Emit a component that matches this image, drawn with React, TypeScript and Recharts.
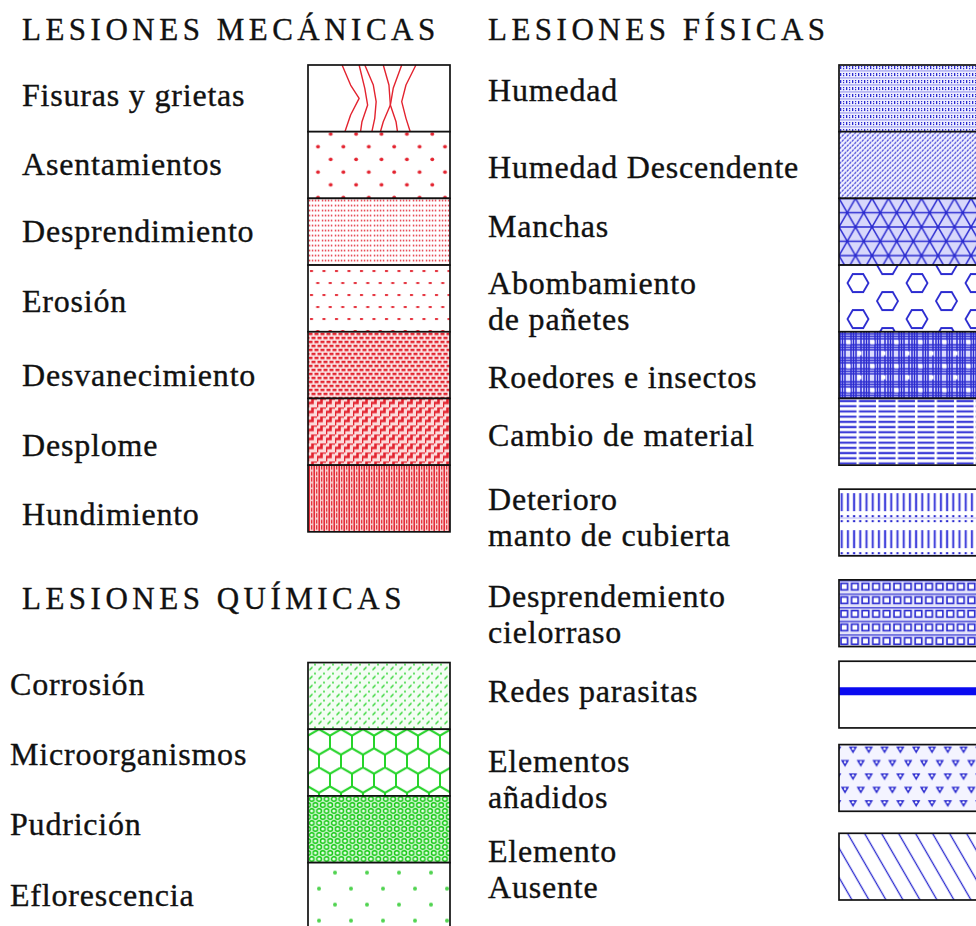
import React from 'react';
import { BarChart, Bar, XAxis, YAxis } from 'recharts';

// ---- legend content ----
const groupTitles = ['LESIONES MECÁNICAS', 'LESIONES QUÍMICAS', 'LESIONES FÍSICAS'];

const mechanicalLabels = [
  'Fisuras y grietas', 'Asentamientos', 'Desprendimiento', 'Erosión',
  'Desvanecimiento', 'Desplome', 'Hundimiento',
];
const mechanicalValues = [1, 1, 1, 1, 1, 1, 1];

const chemicalLabels = ['Corrosión', 'Microorganismos', 'Pudrición', 'Eflorescencia'];
const chemicalValues = [1, 1, 1, 1];

const physicalLabels = [
  'Humedad', 'Humedad Descendente', 'Manchas', 'Abombamiento\nde pañetes',
  'Roedores e insectos', 'Cambio de material', 'Deterioro\nmanto de cubierta',
  'Desprendemiento\ncielorraso', 'Redes parasitas', 'Elementos\nañadidos', 'Elemento\nAusente',
];
const physicalValues = [1, 1, 1, 1, 1, 1, 1, 1, 1, 1, 1];

// ---- layout & style ----
const RED = '#e3232f';
const GREEN = '#26d42a';
const BLUE = '#2b2bd0';
const INK = '#111';
const FONT = "'Liberation Serif', 'Times New Roman', serif";

const TOP = 65;
const PLOT_H = 867;
const CHART_H = 940;
const BAR_W = 142;
const DOMAIN_MAX = 13;
const LEFT_BAR_X = 308;
const RIGHT_BAR_X = 839;
const MECH_LABEL_X = 22;
const CHEM_LABEL_X = 10;
const PHYS_LABEL_X = 488;
const LINE_GAP = 36;

const LEFT_SPACER = 1.96; // gap between mechanical and chemical swatches
const PHYS_SPACERS = [0, 0, 0, 0, 0, 0, 0.36, 0.36, 0.22, 0.25, 0.33];

const mechPatterns = ['cracks', 'asent', 'despr', 'eros', 'desvan', 'despl', 'hund'];
const chemPatterns = ['corr', 'micro', 'pudr', 'eflor'];
const physPatterns = ['hum', 'humdesc', 'manchas', 'abomb', 'roed', 'cambio', 'deter', 'cielo', 'redes', 'elem', 'ausente'];

// baseline offset of each label from the middle of its swatch
const mechDy = [8, 9.5, 10.5, 14, 21, 24.5, 26];
const chemDy = [-0.5, 2.8, 6, 10.5];
const physDy = [3, 12.5, 5.5, -4, 23, 14.5, -13, -6, 7.5, -5.5, -4.5];

const CRACKS = [
  [[0.24, 0], [0.3, 0.3], [0.36, 0.5], [0.3, 0.75], [0.26, 1]],
  [[0.36, 0], [0.4, 0.35], [0.42, 0.6], [0.38, 0.85], [0.37, 1]],
  [[0.4, 0], [0.46, 0.3], [0.48, 0.55], [0.47, 0.8], [0.45, 1]],
  [[0.53, 0], [0.57, 0.3], [0.58, 0.6], [0.53, 0.85], [0.51, 1]],
  [[0.66, 0], [0.6, 0.35], [0.58, 0.6], [0.62, 0.85], [0.63, 1]],
  [[0.76, 0], [0.69, 0.3], [0.66, 0.55], [0.69, 0.8], [0.72, 1]],
];

type Segment = {
  key: string;
  value: number;
  spacer?: boolean;
  label?: string;
  pattern?: string;
  labelX?: number;
  dy?: number;
};

const tiled = (W: number, H: number, pts: number[][], draw: (x: number, y: number, k: string) => React.ReactNode) =>
  pts.flatMap(([cx, cy], p) =>
    [-1, 0, 1].flatMap(i => [-1, 0, 1].map(j => draw(cx + i * W, cy + j * H, `${p}-${i}-${j}`))),
  );

const flatHex = (cx: number, cy: number, a: number, b: number) =>
  `M${cx - a},${cy} L${cx - a / 2},${cy - b} L${cx + a / 2},${cy - b} L${cx + a},${cy} L${cx + a / 2},${cy + b} L${cx - a / 2},${cy + b} Z`;

const patternDefs = () => (
  <defs>
    {/* mechanical - red */}
    <pattern id="pat-asent" width={25.4} height={25.4} patternUnits="userSpaceOnUse">
      <rect width={25.4} height={25.4} fill="#fff" />
      <circle cx={10} cy={15} r={1.9} fill={RED} />
      <circle cx={22.7} cy={2.3} r={1.9} fill={RED} />
    </pattern>
    <pattern id="pat-despr" width={13} height={5} patternUnits="userSpaceOnUse">
      <rect width={13} height={5} fill="#fff" />
      {[0.8, 3.8, 6.8, 9.8].map(x => <rect key={x} x={x} y={1.5} width={1.5} height={1.5} fill={RED} />)}
    </pattern>
    <pattern id="pat-eros" width={12.5} height={24} patternUnits="userSpaceOnUse">
      <rect width={12.5} height={24} fill="#fff" />
      <rect x={2} y={5} width={3} height={1.9} fill={RED} />
      <rect x={8.25} y={17} width={3} height={1.9} fill={RED} />
    </pattern>
    <pattern id="pat-desvan" width={12} height={8} patternUnits="userSpaceOnUse">
      <rect width={12} height={8} fill="#fbe6e6" />
      <rect x={0.5} y={1} width={4} height={2.4} fill={RED} />
      <rect x={6.5} y={1} width={4} height={2.4} fill={RED} />
      <rect x={3.5} y={5} width={4} height={2.4} fill={RED} />
      <rect x={9.5} y={5} width={4} height={2.4} fill={RED} />
      <rect x={-2.5} y={5} width={4} height={2.4} fill={RED} />
    </pattern>
    <pattern id="pat-despl" width={9} height={9} patternUnits="userSpaceOnUse">
      <rect width={9} height={9} fill="#fcdcdc" />
      <path d="M0 9 V4.5 H4.5 V0 H9" fill="none" stroke={RED} strokeWidth={2.6} />
    </pattern>
    <pattern id="pat-hund" width={5} height={12} patternUnits="userSpaceOnUse">
      <rect width={5} height={12} fill="#f9d4d4" />
      <line x1={1.2} y1={0} x2={1.2} y2={12} stroke={RED} strokeWidth={1.5} />
      <line x1={3.7} y1={0} x2={3.7} y2={4.5} stroke={RED} strokeWidth={1.2} />
      <line x1={3.7} y1={6.5} x2={3.7} y2={10.5} stroke={RED} strokeWidth={1.2} />
    </pattern>

    {/* chemical - green */}
    <pattern id="pat-corr" width={9} height={9} patternUnits="userSpaceOnUse">
      <rect width={9} height={9} fill="#f4fdf4" />
      <line x1={1.5} y1={7.5} x2={4.5} y2={4.5} stroke={GREEN} strokeWidth={1.2} />
      <circle cx={7} cy={2} r={0.9} fill={GREEN} />
    </pattern>
    <pattern id="pat-micro" width={22} height={38.1} patternUnits="userSpaceOnUse">
      <rect width={22} height={38.1} fill="#fff" />
      <path d="M11,0 L22,6.35 L22,19.05 L11,25.4 L0,19.05 L0,6.35 Z M11,25.4 L11,38.1" fill="none" stroke={GREEN} strokeWidth={2} />
    </pattern>
    <pattern id="pat-pudr" width={7.4} height={12} patternUnits="userSpaceOnUse">
      <rect width={7.4} height={12} fill="#c9f5c9" />
      {[[3.7, 3], [0, 9], [7.4, 9]].map(([x, y]) => (
        <circle key={`${x}-${y}`} cx={x} cy={y} r={2.3} fill="#ecffec" stroke="#16c816" strokeWidth={1.4} />
      ))}
    </pattern>
    <pattern id="pat-eflor" width={32} height={32} patternUnits="userSpaceOnUse">
      <rect width={32} height={32} fill="#fff" />
      <circle cx={27} cy={10} r={2} fill="#4fd34f" />
      <circle cx={11} cy={26} r={2} fill="#4fd34f" />
    </pattern>

    {/* physical - blue */}
    <pattern id="pat-hum" width={6} height={7} patternUnits="userSpaceOnUse">
      <rect width={6} height={7} fill="#eeeeff" />
      <rect x={1} y={1} width={1.3} height={3} fill={BLUE} />
      <rect x={4} y={1} width={1.2} height={1.2} fill={BLUE} />
      <rect x={4} y={3} width={1.2} height={1.2} fill={BLUE} />
      <rect x={0} y={5.5} width={6} height={0.9} fill={BLUE} opacity={0.55} />
    </pattern>
    <pattern id="pat-humdesc" width={5} height={5} patternUnits="userSpaceOnUse">
      <rect width={5} height={5} fill="#f0f0ff" />
      <line x1={0.3} y1={2.2} x2={2.2} y2={0.3} stroke={BLUE} strokeWidth={1.1} />
      <line x1={2.8} y1={4.7} x2={4.7} y2={2.8} stroke={BLUE} strokeWidth={1.1} />
    </pattern>
    <pattern id="pat-manchas" width={16.5} height={28.6} patternUnits="userSpaceOnUse">
      <rect width={16.5} height={28.6} fill="#d8d8fb" />
      <path d="M0 0 H16.5 M0 14.3 H16.5 M0 28.6 H16.5 M0 0 L16.5 28.6 M16.5 0 L0 28.6" stroke={BLUE} strokeWidth={1.5} />
    </pattern>
    <pattern id="pat-abomb" width={59} height={36} patternUnits="userSpaceOnUse">
      <rect width={59} height={36} fill="#fff" />
      {tiled(59, 36, [[19, 18], [48.5, 0]], (x, y, k) => (
        <path key={k} d={flatHex(x, y, 10.5, 9)} fill="none" stroke={BLUE} strokeWidth={1.8} />
      ))}
    </pattern>
    <pattern id="pat-roed" width={24} height={24} patternUnits="userSpaceOnUse">
      <rect width={24} height={24} fill="#dcdcff" />
      {[1, 3.5, 6, 12, 14.5, 17, 22].map(x => <line key={`v${x}`} x1={x} y1={0} x2={x} y2={24} stroke={BLUE} strokeWidth={1.5} />)}
      {[2, 4.5, 7, 13, 15.5, 18].map(y => <line key={`h${y}`} x1={0} y1={y} x2={24} y2={y} stroke={BLUE} strokeWidth={1.5} />)}
      <rect x={7.5} y={8.5} width={4} height={4} fill="#fff" />
      <rect x={18.5} y={19.5} width={4} height={4} fill="#fff" />
    </pattern>
    <pattern id="pat-cambio" width={19.5} height={5.2} patternUnits="userSpaceOnUse">
      <rect width={19.5} height={5.2} fill="#fff" />
      <rect x={0.5} y={1.5} width={17} height={2.2} fill="#3d3dd8" />
    </pattern>
    <pattern id="pat-deter" width={6.2} height={37} patternUnits="userSpaceOnUse">
      <rect width={6.2} height={37} fill="#fff" />
      <rect x={1.6} y={4} width={2.2} height={18} fill="#4747dc" />
      <rect x={1.6} y={26} width={2.2} height={2} fill={BLUE} />
      <rect x={1.6} y={31} width={2.2} height={2} fill={BLUE} />
      <rect x={0} y={28.6} width={6.2} height={0.8} fill="#9a9af0" />
    </pattern>
    <pattern id="pat-cielo" width={10.6} height={13.6} patternUnits="userSpaceOnUse">
      <rect width={10.6} height={13.6} fill="#e4e4fa" />
      <line x1={0} y1={0.8} x2={10.6} y2={0.8} stroke={BLUE} strokeWidth={1.2} />
      <rect x={2} y={3.5} width={6.5} height={6.5} fill="#fff" stroke={BLUE} strokeWidth={1.6} />
    </pattern>
    <pattern id="pat-elem" width={15.8} height={26.8} patternUnits="userSpaceOnUse">
      <rect width={15.8} height={26.8} fill="#f4f4ff" />
      {tiled(15.8, 26.8, [[14, 5], [6, 18.4]], (x, y, k) => (
        <g key={k}>
          <path d={`M${x - 4.2},${y - 3} L${x + 4.2},${y - 3} L${x},${y + 4} Z`} fill={BLUE} />
          <circle cx={x} cy={y - 0.9} r={1.2} fill="#fff" />
        </g>
      ))}
    </pattern>
    <pattern id="pat-ausente" width={17} height={20} patternUnits="userSpaceOnUse" patternTransform="skewX(30)">
      <rect width={17} height={20} fill="#fff" />
      <line x1={8.5} y1={-1} x2={8.5} y2={21} stroke={BLUE} strokeWidth={1.5} />
    </pattern>
  </defs>
);

const fillFor = (p?: string) => (p === 'cracks' || p === 'redes' ? '#fff' : `url(#pat-${p})`);

const textStyle = { fontFamily: FONT, fill: INK, stroke: INK, strokeWidth: 0.35 };

const swatchShape = (seg: Segment) => (props: any) => {
  const { x, y, width, height } = props;
  if (seg.spacer) return <g />;
  const bx = width < 0 ? x + width : x;
  const by = height < 0 ? y + height : y;
  const w = Math.abs(width);
  const h = Math.abs(height);
  const lines = (seg.label || '').split('\n');
  return (
    <g>
      <g transform={`translate(${bx},${by})`}>
        <rect width={w} height={h} fill={fillFor(seg.pattern)} />
        {seg.pattern === 'cracks' &&
          CRACKS.map((c, i) => (
            <polyline
              key={i}
              points={c.map(([fx, fy]) => `${fx * w},${fy * h}`).join(' ')}
              fill="none"
              stroke={RED}
              strokeWidth={1.4}
              strokeLinejoin="round"
            />
          ))}
        {seg.pattern === 'redes' && (
          <line x1={0} y1={h * 0.45} x2={w} y2={h * 0.45} stroke="#0a0af0" strokeWidth={8} />
        )}
        <rect width={w} height={h} fill="none" stroke={INK} strokeWidth={1.7} />
      </g>
      <text x={seg.labelX} y={by + h / 2 + (seg.dy || 0)} fontSize={32} letterSpacing={0.8} {...textStyle}>
        {lines.map((l, i) => (
          <tspan key={i} x={seg.labelX} dy={i === 0 ? 0 : LINE_GAP}>
            {l}
          </tspan>
        ))}
      </text>
    </g>
  );
};

const makeSegments = (prefix: string, labels: string[], values: number[], patterns: string[], dys: number[], labelX: number) =>
  labels.map((label, i) => ({
    key: `${prefix}${i}`,
    value: values[i],
    label,
    pattern: patterns[i],
    dy: dys[i],
    labelX,
  }));

const mechSegs = makeSegments('m', mechanicalLabels, mechanicalValues, mechPatterns, mechDy, MECH_LABEL_X);
const chemSegs = makeSegments('c', chemicalLabels, chemicalValues, chemPatterns, chemDy, CHEM_LABEL_X);
const physSegs = makeSegments('p', physicalLabels, physicalValues, physPatterns, physDy, PHYS_LABEL_X);

const leftColumn: Segment[] = [...mechSegs, { key: 'gapL', value: LEFT_SPACER, spacer: true }, ...chemSegs];
const rightColumn: Segment[] = physSegs.flatMap((s, i) =>
  PHYS_SPACERS[i] > 0 ? [{ key: `gap${i}`, value: PHYS_SPACERS[i], spacer: true }, s] : [s],
);

const SwatchColumn = ({ segments, barX }: { segments: Segment[]; barX: number }) => {
  const row: Record<string, any> = { name: 'col' };
  segments.forEach(s => {
    row[s.key] = s.value;
  });
  return (
    <BarChart
      width={barX + BAR_W + 10}
      height={CHART_H}
      data={[row]}
      margin={{ top: TOP, left: barX, right: 10, bottom: CHART_H - TOP - PLOT_H }}
      barCategoryGap={0}
      barGap={0}
    >
      {patternDefs()}
      <XAxis dataKey="name" hide />
      <YAxis type="number" domain={[0, DOMAIN_MAX]} reversed hide />
      {segments.map(s => (
        <Bar key={s.key} dataKey={s.key} stackId="col" isAnimationActive={false} shape={swatchShape(s)} />
      ))}
    </BarChart>
  );
};

export default function App() {
  return (
    <div style={{ position: 'absolute', left: 0, top: 0, width: 976, height: 926, overflow: 'hidden', background: '#fff' }}>
      <div style={{ position: 'absolute', left: 0, top: 0 }}>
        <SwatchColumn segments={leftColumn} barX={LEFT_BAR_X} />
      </div>
      <div style={{ position: 'absolute', left: 0, top: 0 }}>
        <SwatchColumn segments={rightColumn} barX={RIGHT_BAR_X} />
      </div>
      <svg width={976} height={926} style={{ position: 'absolute', left: 0, top: 0, pointerEvents: 'none' }}>
        <text x={22} y={40} fontSize={31} letterSpacing={4.5} {...textStyle}>{groupTitles[0]}</text>
        <text x={22} y={609} fontSize={31} letterSpacing={4.5} {...textStyle}>{groupTitles[1]}</text>
        <text x={488} y={40} fontSize={31} letterSpacing={4.5} {...textStyle}>{groupTitles[2]}</text>
      </svg>
    </div>
  );
}
